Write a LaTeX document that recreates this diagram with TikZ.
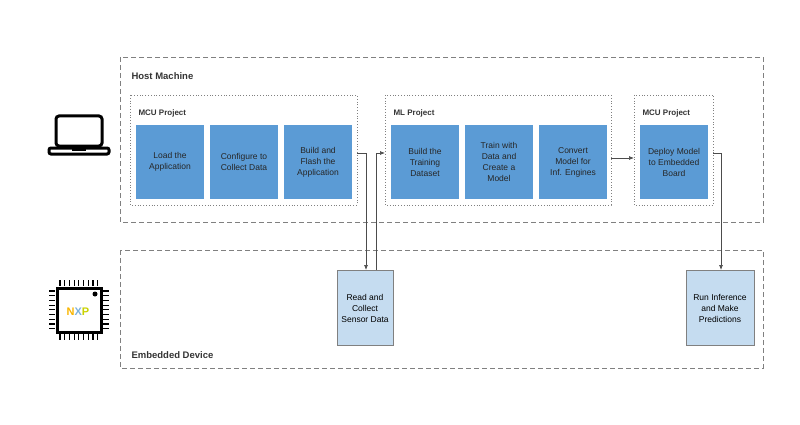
\documentclass[tikz,border=0pt]{standalone}
\usepackage{fontspec}
\setmainfont{Liberation Sans}
\usetikzlibrary{arrows.meta}
\definecolor{dblue}{HTML}{5B9BD5}
\definecolor{lblue}{HTML}{C5DCF0}
\definecolor{gline}{HTML}{808080}
\begin{document}
\begin{tikzpicture}[x=1pt,y=-1pt,
 outer/.style={draw=gline,dashed,dash pattern=on 5pt off 3pt,line width=0.8pt},
 proj/.style={draw=gline,dotted,line width=0.8pt},
 stepbox/.style={fill=dblue,minimum width=68pt,minimum height=73pt,align=center,font=\fontsize{8.5}{11}\selectfont,text=black!85,inner sep=1pt},
 dev/.style={fill=lblue,draw=gline,line width=0.8pt,minimum width=56pt,minimum height=75pt,align=center,font=\fontsize{8.5}{11}\selectfont,inner sep=1pt},
 lab/.style={anchor=west,font=\fontsize{8}{9}\selectfont\bfseries,text=black!80},
 arr/.style={draw=black!70,line width=0.7pt,-{Latex[length=5pt,width=4pt]}}]
\useasboundingbox (0,0) rectangle (800,425);
\draw[outer] (120,57) rectangle (763,222);
\draw[outer] (120,250) rectangle (763,368);
\node[lab,font=\fontsize{9.5}{11}\selectfont\bfseries] (host) at (128,76) {Host Machine};
\node[lab,font=\fontsize{9.5}{11}\selectfont\bfseries] (emb) at (128,355) {Embedded Device};
\draw[proj] (130,95) rectangle (357,205);
\draw[proj] (385,95) rectangle (611,205);
\draw[proj] (634,95) rectangle (713,205);
\node[lab] (p1) at (135,113) {MCU Project};
\node[lab] (p2) at (390,113) {ML Project};
\node[lab] (p3) at (639,113) {MCU Project};
\node[stepbox] (a1) at (170,162) {Load the\\Application};
\node[stepbox] (a2) at (244,162) {Configure to\\Collect Data};
\node[stepbox] (a3) at (318,162) {Build and\\Flash the\\Application};
\node[stepbox] (b1) at (425,162) {Build the\\Training\\Dataset};
\node[stepbox] (b2) at (499,162) {Train with\\Data and\\Create a\\Model};
\node[stepbox] (b3) at (573,162) {Convert\\Model for\\Inf. Engines};
\node[stepbox] (c1) at (674,162) {Deploy Model\\to Embedded\\Board};
\node[dev,minimum width=56pt] (r) at (365,308) {Read and\\Collect\\Sensor Data};
\node[dev,minimum width=68pt] (inf) at (720,308) {Run Inference\\and Make\\Predictions};
\coordinate (p1r) at (357,153);
\coordinate (p2l) at (385,153);
\coordinate (rin) at (366,270);
\coordinate (rout) at (376,270);
\coordinate (c1r) at (713,153);
\coordinate (infin) at (721,270);
\coordinate (mlr) at (611,158);
\coordinate (mcul) at (634,158);
\draw[arr] (p1r) -| (rin);
\draw[arr] (rout) |- (p2l);
\draw[arr] (mlr) -- (mcul);
\draw[arr] (c1r) -| (infin);
% laptop
\draw[line width=3pt,rounded corners=3pt] (56,116) rectangle (102,146);
\draw[line width=3pt,rounded corners=2pt] (49,148) -- (109,148) -- (109,154) -- (49,154) -- cycle;
\fill (72,148) rectangle (86,151);
% chip
\draw[line width=3pt] (57,288) rectangle (101,332);
\foreach \i in {0,...,8}{
 \draw[line width=1.2pt] (60+\i*4.7,280) -- (60+\i*4.7,286);
 \draw[line width=1.2pt] (60+\i*4.7,334) -- (60+\i*4.7,340);
 \draw[line width=1.2pt] (49,291+\i*4.7) -- (55,291+\i*4.7);
 \draw[line width=1.2pt] (103,291+\i*4.7) -- (109,291+\i*4.7);}
\fill (95,294) circle (2.5pt);
\node[font=\fontsize{11}{11}\selectfont\bfseries,inner sep=0] (nxp) at (78,312) {\textcolor[HTML]{F9B500}{N}\textcolor[HTML]{7BB1DB}{X}\textcolor[HTML]{C9D200}{P}};
\end{tikzpicture}
\end{document}
